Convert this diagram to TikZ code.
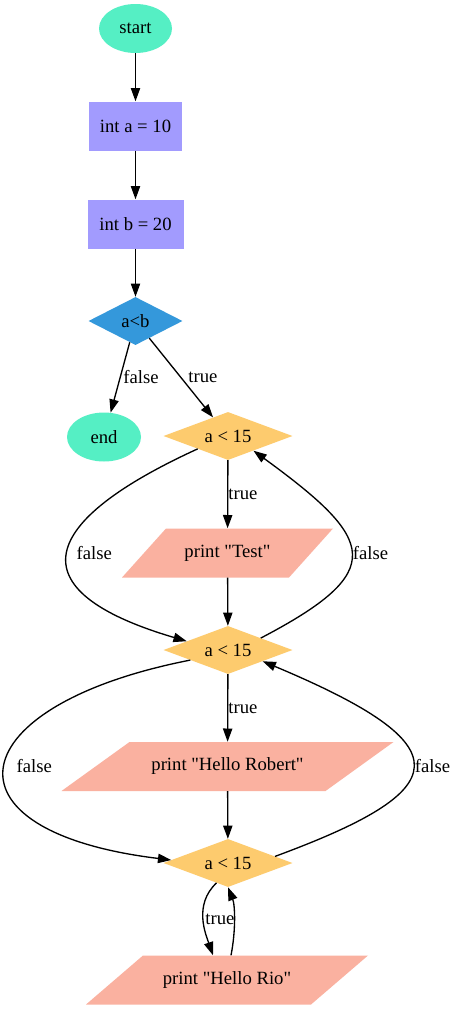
\documentclass[tikz,border=0pt]{standalone}
\usepackage{fontspec}
\setmainfont{Liberation Serif}[Ligatures=TeXOff]
\usetikzlibrary{shapes.geometric,arrows.meta}
\definecolor{mint}{HTML}{55EFC4}
\definecolor{lav}{HTML}{A29BFE}
\definecolor{blu}{HTML}{3498DB}
\definecolor{yel}{HTML}{FDCB6E}
\definecolor{salmon}{HTML}{FAB1A0}
\begin{document}
\begin{tikzpicture}[x=1pt,y=-1pt,
  every node/.style={font=\fontsize{18.67}{22}\selectfont, inner sep=0pt},
  term/.style={ellipse, fill=mint, minimum width=73, minimum height=49},
  assign/.style={rectangle, fill=lav, minimum height=49},
  cond/.style={diamond, fill=yel, minimum width=129, minimum height=48, aspect=2.7},
  prt/.style={rectangle, minimum height=49, path picture={\fill[salmon] (path picture bounding box.south west) -- ([xshift=-#1]path picture bounding box.south east) -- (path picture bounding box.north east) -- ([xshift=#1]path picture bounding box.north west) -- cycle;}},
  arr/.style={-{Triangle[length=13.3pt,width=9.3pt]}, line width=1.33pt},
  lbl/.style={anchor=west, inner sep=0pt}]
\fill[white] (0,0) rectangle (453,1009);
\useasboundingbox (0,0) rectangle (453,1009);

\node[term] (start) at (135.5,28.5) {start};
\node[assign, minimum width=93] (inta) at (135.5,126) {int a = 10};
\node[assign, minimum width=96] (intb) at (135.5,224) {int b = 20};
\node[cond, fill=blu, minimum width=94, aspect=1.96] (ab) at (135.5,321) {a<b};
\node[term, minimum width=74] (stop) at (104,437) {end};
\node[cond] (d1) at (228,436) {a < 15};
\node[prt=44, minimum width=211] (test) at (227.5,553) {print "Test"};
\node[cond] (d2) at (228,650) {a < 15};
\node[prt=68, minimum width=332] (robert) at (227.5,766.5) {print "Hello Robert"};
\node[cond] (d3) at (228,863) {a < 15};
\node[prt=57, minimum width=282] (rio) at (227,980) {print "Hello Rio"};

\draw[arr] (start) -- (inta);
\draw[arr] (inta) -- (intb);
\draw[arr] (intb) -- (ab);
\draw[arr] (ab) -- node[lbl, xshift=2.5] {false} (stop);
\draw[arr] (ab) -- node[lbl, xshift=6.6] {true} (d1);
\draw[arr] (d1) -- node[lbl] {true} (test);
\draw[arr] (test) -- (d2);
\draw[arr] (d2) -- node[lbl] {true} (robert);
\draw[arr] (robert) -- (d3);

\draw[arr] (d1.203) .. controls (40,521) and (13,590) .. node[lbl, xshift=8] {false} (d2.168);
\draw[arr] (d2.20) .. controls (389,571) and (376,540) .. node[lbl, xshift=1] {false} (d1.330);
\draw[arr] (d2.195) .. controls (-40,705) and (-67,831) .. node[lbl, xshift=11] {false} (d3.177);
\draw[arr] (d3.8) .. controls (455,790) and (466.6,746.8) .. node[lbl, xshift=1.5] {false} (d2.342);

\draw[arr] (d3.240) .. controls (193,905) and (206,935) .. node[lbl, xshift=1.5] {true} ([xshift=-14]rio.north);
\draw[arr] ([xshift=4]rio.north) .. controls (236,930) and (235,905) .. (d3.south);
\end{tikzpicture}
\end{document}
